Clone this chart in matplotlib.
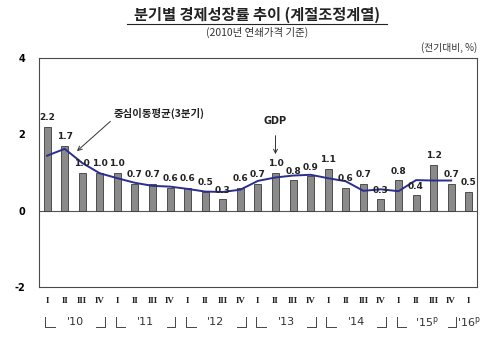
import matplotlib
matplotlib.use("Agg")
import matplotlib.pyplot as plt
import matplotlib.transforms as mtransforms
import numpy as np

plt.rcParams['font.family'] = ['Noto Sans CJK KR', 'DejaVu Sans']

# quarterly growth, 2010 Q1 .. 2016 Q1
quarters = ['I', 'II', 'III', 'IV'] * 6 + ['I']
growth = [2.2, 1.7, 1.0, 1.0, 1.0, 0.7, 0.7, 0.6, 0.6, 0.5, 0.3, 0.6,
          0.7, 1.0, 0.8, 0.9, 1.1, 0.6, 0.7, 0.3, 0.8, 0.4, 1.2, 0.7, 0.5]
# centred 3-quarter moving average (2010 Q1 .. 2015 Q4)
moving_avg = [1.44, 1.62, 1.25, 0.98, 0.85, 0.73, 0.65, 0.63, 0.57, 0.50, 0.49, 0.55,
              0.78, 0.87, 0.92, 0.94, 0.85, 0.77, 0.52, 0.56, 0.51, 0.80, 0.79, 0.79]
years = ["'10", "'11", "'12", "'13", "'14", "'15$^{\\mathrm{p}}$"]
last_year = "'16$^{\\mathrm{p}}$"

fig = plt.figure(figsize=(4.97, 3.51), dpi=100)
ax = fig.add_axes([39/497, 1 - 287/351, (477-39)/497, (287-58)/351])

x = np.arange(len(growth))
ax.bar(x, growth, width=0.4, color='#8a8a8a', edgecolor='#3a3a3a', linewidth=0.6, zorder=2)
ax.plot(np.arange(len(moving_avg)), moving_avg, color='#2b2d8f', linewidth=1.4, zorder=3)
ax.axhline(0, color='#555555', linewidth=0.8, zorder=1)

for xi, v in zip(x, growth):
    ax.text(xi, v + 0.12, f'{v:.1f}', ha='center', va='bottom', fontsize=6.5,
            fontweight='bold', family='DejaVu Sans', color='#222222', zorder=4)

ax.set_xlim(-0.46, len(growth) - 1 + 0.47)
ax.set_ylim(-2, 4)
ax.set_yticks([-2, 0, 2, 4])
ax.set_yticklabels(['-2', '0', '2', '4'], fontsize=7, fontweight='bold', family='DejaVu Sans')
ax.tick_params(axis='y', length=0, pad=10)
ax.set_xticks([])
for s in ax.spines.values():
    s.set_color('#4a4a4a')
    s.set_linewidth(0.8)

# quarter labels
trans = mtransforms.blended_transform_factory(ax.transData, ax.transAxes)
for xi, q in zip(x, quarters):
    ax.text(xi, -0.045, q, transform=trans, ha='center', va='top', fontsize=6.5,
            fontweight='bold', family='Liberation Serif', color='#222222')

# year brackets
yb, yt = -0.175, -0.13
for i, yr in enumerate(years):
    s = i * 4
    kw = dict(transform=trans, color='#444444', linewidth=0.7, clip_on=False)
    ax.plot([s - 0.1, s - 0.1, s + 0.45], [yt, yb, yb], **kw)
    ax.plot([s + 2.8, s + 3.3, s + 3.3], [yb, yb, yt], **kw)
    ax.text(s + 1.6, -0.152, yr, transform=trans, ha='center', va='center',
            fontsize=8, family='DejaVu Sans', color='#333333')
ax.text(24.0, -0.152, last_year, transform=trans, ha='center', va='center',
        fontsize=8, family='DejaVu Sans', color='#333333')

# annotations
ax.annotate('중심이동평균(3분기)', xy=(1.7, 1.56), xytext=(6.35, 2.55),
            ha='center', va='center', fontsize=7.5, fontweight='bold', color='#222222',
            arrowprops=dict(arrowstyle='->', color='#333333', lw=0.7,
                            shrinkA=0, shrinkB=0, relpos=(0.0, 0.0)))
ax.annotate('GDP', xy=(13.0, 1.48), xytext=(13.0, 2.35),
            ha='center', va='center', fontsize=7, fontweight='bold', color='#222222',
            family='DejaVu Sans',
            arrowprops=dict(arrowstyle='->', color='#333333', lw=0.7,
                            shrinkA=5, shrinkB=0))

# titles
fig.text(257/497, 1 - 15/351, '분기별 경제성장률 추이 (계절조정계열)', ha='center', va='center',
         fontsize=11, fontweight='bold', color='#222222')
fig.add_artist(plt.Line2D([127/497, 387/497], [1 - 24/351, 1 - 24/351],
                          color='#222222', linewidth=0.8))
fig.text(257/497, 1 - 32/351, '(2010년 연쇄가격 기준)', ha='center', va='center',
         fontsize=7.5, color='#333333')
fig.text(477/497, 1 - 48/351, '(전기대비, %)', ha='right', va='center',
         fontsize=7, color='#333333')

fig.savefig('out.png', dpi=100)
